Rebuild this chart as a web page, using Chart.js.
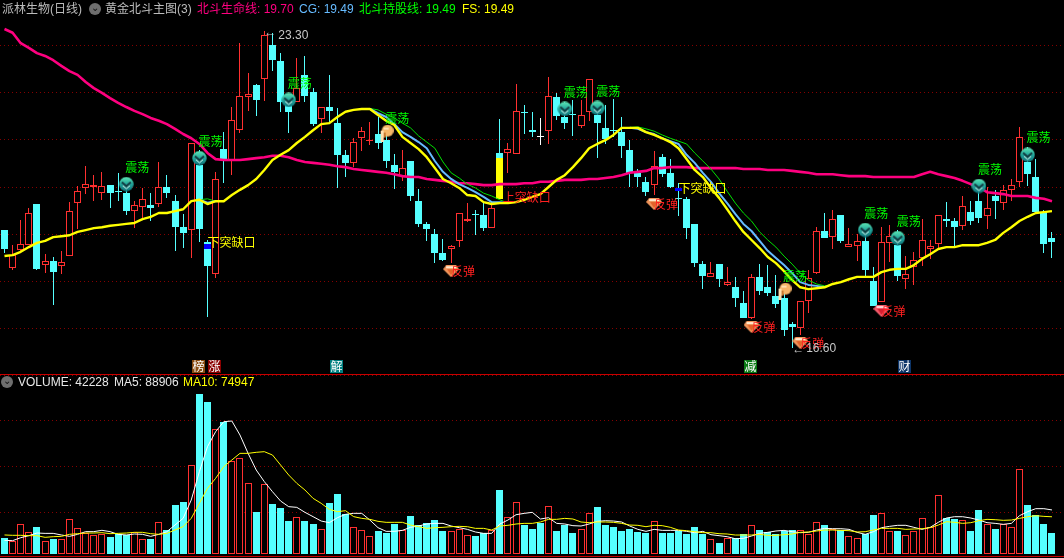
<!DOCTYPE html>
<html><head><meta charset="utf-8">
<script src="https://cdn.jsdelivr.net/npm/chart.js@4"></script>
<style>
html,body{margin:0;padding:0;background:#000;overflow:hidden;width:1064px;height:558px}
#wrap{position:relative;width:1064px;height:558px;background:#000;font:12px "Liberation Sans","Noto Sans CJK SC",sans-serif}
canvas{position:absolute;left:0;display:block}
.t{position:absolute;white-space:nowrap;line-height:14px;height:14px}
.rule{position:absolute;left:0;width:1064px;height:1px;background:#c80000}
.dot{position:absolute;width:12px;height:12px;border-radius:50%;background:#6e6e6e;color:#111;text-align:center;line-height:9px;font-size:10px}
</style></head><body>
<div id="wrap">
<canvas id="main" width="1064" height="374" style="top:0"></canvas>
<canvas id="vol" width="1064" height="183" style="top:375px"></canvas>
<div class="rule" style="top:374px"></div>
<div class="rule" style="top:556px"></div>
<span class="t" style="left:2px;top:2px;color:#bcbcbc">派林生物(日线)</span>
<div class="dot" style="left:89px;top:3px">⌄</div>
<span class="t" style="left:105px;top:2px;color:#bcbcbc">黄金北斗主图(3)</span>
<span class="t" style="left:197px;top:2px;color:#ff0080">北斗生命线: 19.70</span>
<span class="t" style="left:299px;top:2px;color:#66bbff">CG: 19.49</span>
<span class="t" style="left:359px;top:2px;color:#00ff00">北斗持股线: 19.49</span>
<span class="t" style="left:462px;top:2px;color:#ffff00">FS: 19.49</span>
<div class="dot" style="left:1px;top:376px">⌄</div>
<span class="t" style="left:18px;top:375px;color:#e8e8e8">VOLUME: 42228</span>
<span class="t" style="left:114px;top:375px;color:#e8e8e8">MA5: 88906</span>
<span class="t" style="left:183px;top:375px;color:#ffff00">MA10: 74947</span>
</div>
<script>
const opens=[19.09,18.29,18.67,18.77,19.64,18.35,18.44,18.33,18.54,19.66,
19.98,20.00,19.87,20.04,19.91,19.87,19.49,19.58,19.62,19.64,
20.00,19.70,19.15,19.09,20.46,18.84,18.16,20.80,20.57,21.20,
21.90,22.15,22.28,23.00,22.66,21.84,21.80,22.37,22.01,21.44,
21.69,21.35,20.68,20.51,21.03,20.97,21.12,20.99,20.46,20.23,
20.55,19.70,19.22,19.01,18.60,18.69,18.86,19.28,19.43,19.41,
19.13,20.72,20.72,20.70,21.58,21.20,21.08,21.18,21.90,21.48,
21.55,21.29,21.58,21.52,21.25,21.21,21.16,20.78,20.30,20.11,
20.04,20.63,20.30,19.77,19.75,19.22,18.37,18.10,18.37,17.93,
17.88,17.55,17.23,18.10,17.88,17.70,17.65,17.10,17.02,17.59,
18.18,19.07,18.94,19.41,18.73,18.75,18.86,18.01,17.57,18.82,
18.77,18.05,18.31,18.50,18.69,18.79,19.32,19.28,19.18,19.47,
19.70,19.39,19.81,19.66,19.94,20.11,20.53,20.21,19.47,18.92];
const highs=[19.09,18.77,19.30,19.56,19.64,18.58,18.52,18.65,19.68,20.02,
20.44,20.25,20.32,20.04,20.30,19.96,19.70,19.98,19.87,20.53,
20.25,19.83,19.43,20.93,20.78,18.88,20.32,21.16,21.69,23.04,
22.41,22.17,23.30,23.26,22.83,21.97,22.73,22.77,22.09,21.69,
22.37,21.67,20.78,21.03,21.27,21.37,21.48,21.16,20.70,20.78,
20.55,19.96,19.26,19.11,18.90,18.77,19.45,19.66,19.51,19.66,
19.64,21.44,20.93,22.17,21.73,21.58,21.46,22.33,21.99,21.80,
21.84,21.84,22.28,21.73,21.73,21.86,21.48,20.99,20.38,20.21,
20.76,20.70,20.59,20.08,19.79,19.22,18.44,18.41,18.37,18.31,
18.10,17.80,18.16,18.37,18.35,18.14,17.93,17.15,17.59,18.25,
19.15,19.45,19.51,19.41,19.13,19.01,19.09,18.31,19.15,19.20,
19.09,18.54,18.63,19.32,18.88,19.41,19.68,19.34,19.81,19.70,
19.94,20.00,19.94,20.04,20.17,21.27,20.85,20.59,19.51,19.05];
const lows=[18.60,18.25,18.61,18.77,18.25,18.18,17.50,18.16,18.54,19.11,
19.85,19.70,19.73,19.56,19.70,19.41,19.13,19.34,19.28,19.58,
19.77,18.65,18.71,18.50,18.84,17.25,18.07,20.08,20.25,21.14,
21.60,21.50,21.82,22.45,21.59,21.14,21.80,21.80,21.29,21.14,
21.37,19.98,20.21,20.42,20.76,20.89,20.80,20.40,19.96,20.13,
19.70,19.15,18.86,18.39,18.44,18.39,18.73,19.26,18.98,19.07,
19.13,19.75,20.30,20.70,21.12,21.06,20.89,20.91,21.42,21.22,
21.08,21.25,21.40,20.61,20.91,21.06,20.61,20.00,20.00,19.81,
19.83,20.21,19.98,19.39,18.90,18.31,17.84,18.10,17.88,17.91,
17.46,17.23,17.21,17.72,17.70,17.44,16.85,16.60,16.87,17.34,
18.16,18.92,18.69,18.82,18.73,18.44,18.10,17.48,17.57,18.41,
18.01,17.84,17.93,18.33,18.48,18.69,19.15,18.75,19.09,19.20,
19.24,19.11,19.32,19.51,19.70,20.00,20.02,19.47,18.60,18.50];
const closes=[18.69,18.56,18.79,19.45,18.27,18.44,18.21,18.42,19.49,19.92,
20.07,20.04,20.02,19.87,19.89,19.49,19.62,19.75,19.56,20.00,
19.87,19.15,19.03,20.93,19.11,18.33,20.17,20.59,21.42,21.92,
21.96,21.84,23.21,22.68,21.80,21.59,22.09,21.92,21.33,21.69,
21.61,20.68,20.51,20.95,21.18,20.99,20.93,20.55,20.32,20.40,
19.81,19.22,19.11,18.60,18.46,18.75,19.45,19.32,19.41,19.13,
19.56,19.75,20.80,21.60,21.56,21.16,21.08,21.92,21.50,21.35,
21.53,21.52,22.28,21.35,21.01,21.19,20.87,20.30,20.21,19.89,
20.44,20.27,20.00,19.75,19.13,18.39,18.12,18.18,18.05,17.99,
17.65,17.23,18.10,17.80,17.76,17.53,16.98,17.04,17.59,18.07,
19.07,18.92,19.32,18.86,18.79,18.86,18.25,17.48,18.84,18.96,
18.12,18.16,18.46,18.88,18.75,19.41,19.28,19.15,19.60,19.28,
19.34,19.56,19.70,19.94,20.04,21.06,20.27,19.47,18.79,18.84];
const lifeLine=[23.34,23.26,23.04,22.94,22.83,22.77,22.68,22.56,22.45,22.37,
22.22,22.09,21.99,21.88,21.78,21.69,21.61,21.54,21.46,21.40,
21.33,21.23,21.12,21.03,20.91,20.72,20.59,20.57,20.57,20.57,
20.59,20.61,20.63,20.66,20.66,20.63,20.57,20.53,20.51,20.49,
20.47,20.44,20.42,20.38,20.36,20.34,20.32,20.30,20.27,20.23,
20.21,20.21,20.17,20.15,20.13,20.11,20.08,20.08,20.06,20.04,
20.04,20.06,20.06,20.06,20.08,20.08,20.11,20.11,20.13,20.15,
20.15,20.15,20.17,20.17,20.19,20.21,20.25,20.30,20.32,20.34,
20.40,20.40,20.42,20.42,20.42,20.40,20.40,20.40,20.40,20.40,
20.40,20.38,20.38,20.38,20.36,20.36,20.36,20.34,20.32,20.30,
20.27,20.27,20.27,20.25,20.23,20.23,20.23,20.21,20.21,20.21,
20.21,20.21,20.21,20.27,20.32,20.27,20.23,20.19,20.13,20.06,
20.00,19.89,19.87,19.85,19.81,19.81,19.81,19.77,19.75,19.70];
const fsLine=[18.54,18.56,18.63,18.73,18.82,18.86,18.94,18.96,18.98,19.05,
19.09,19.13,19.15,19.18,19.20,19.22,19.24,19.32,19.37,19.45,
19.45,19.49,19.53,19.70,19.73,19.64,19.70,19.70,19.83,19.94,
20.04,20.17,20.36,20.57,20.68,20.78,20.93,21.06,21.20,21.33,
21.35,21.48,21.59,21.63,21.65,21.65,21.52,21.40,21.31,21.06,
20.93,20.80,20.63,20.40,20.17,20.08,19.98,19.83,19.81,19.68,
19.64,19.66,19.66,19.68,19.73,19.79,19.85,20.00,20.15,20.25,
20.42,20.61,20.82,20.91,20.99,21.10,21.25,21.25,21.25,21.16,
21.10,21.03,20.95,20.82,20.59,20.36,20.21,19.98,19.77,19.53,
19.28,19.05,18.88,18.71,18.52,18.39,18.22,18.03,17.88,17.84,
17.86,17.88,17.95,17.99,18.05,18.10,18.10,18.10,18.20,18.25,
18.27,18.27,18.35,18.48,18.58,18.69,18.73,18.73,18.77,18.77,
18.77,18.82,18.88,19.03,19.15,19.28,19.37,19.45,19.47,19.49];
// CG and 北斗持股线 show apart from FS only on these stretches (first value = candle index)
const cgStretchA=[45,21.65,21.56,21.48,21.33,21.16,21.06,20.95,20.82,20.55,20.32,20.17,20.06,19.98,19.89,19.79,19.68,19.68,19.66];
const cgStretchB=[77,21.25,21.23,21.16,21.12,21.03,20.97,20.91,20.68,20.51,20.30,20.11,19.87,19.66,19.43,19.22,19.07,18.86,18.65,18.50,18.35,18.18,17.99,17.93,17.91,17.88];
const cgStretchC=[24,19.73,19.67,19.70];
const holdStretchA=[45,21.66,21.63,21.54,21.46,21.35,21.25,21.08,20.95,20.82,20.53,20.30,20.19,20.06,19.98,19.87,19.81,19.73,19.66];
const holdStretchB=[77,21.26,21.27,21.23,21.18,21.10,21.03,20.97,20.91,20.72,20.55,20.38,20.17,19.91,19.66,19.45,19.28,19.05,18.88,18.73,18.54,18.37,18.18,18.03,17.95,17.91,17.94];
const holdStretchC=[24,19.73,19.75,19.70];
const volumes=[31600,26200,59500,43200,54100,24800,29600,28900,69700,51400,
41800,37200,40500,33700,39200,37800,43200,28900,29600,63700,
48000,99000,105100,180000,325500,309200,253500,267800,188200,194300,
143300,84700,141200,101000,92900,66300,73900,66300,60200,49400,
103000,121400,80000,53500,47300,35100,45900,41800,60200,47300,
76500,58200,62300,68400,45900,45300,49400,37200,35700,41200,
48000,129600,73900,104500,58200,50000,62300,96300,45900,58200,
41800,49400,82000,94900,58200,54100,45900,50000,43900,41800,
65700,41800,41800,45900,39800,53500,39800,29000,21400,31000,
31600,39800,57600,48000,43900,39800,45900,48000,47300,39200,
63700,58200,49400,48000,35100,31000,39800,78600,82000,45300,
45900,37200,45300,71800,53500,118800,72500,70400,67800,45900,
88800,60200,50000,59600,53500,171900,99000,78600,60200,42228];
const ma5=[26900,26200,32300,36400,41800,41100,41100,37800,35000,39100,
44600,44600,47300,44600,39100,37800,39800,39100,35000,39100,
44600,58200,71800,109200,167000,218000,248600,269000,270400,241800,
204400,170400,146600,126200,107100,95600,94200,84000,75200,66300,
62900,73100,79900,82000,81900,68300,52700,45200,45200,47200,
53400,56100,60200,61500,61500,56100,52700,49300,43900,41100,
41100,60200,68300,79200,81900,84000,70400,73100,61500,60200,
56800,56100,60200,65600,67000,66300,64300,56100,49300,45200,
49300,47200,47200,47200,45200,42500,45200,38400,36400,34300,
30200,30900,35700,41100,43200,45900,47200,44500,42500,43200,
47900,51300,50600,50600,49300,43200,39100,44500,52700,55400,
57500,57500,53400,49300,53400,63600,72400,75100,75100,72400,
68300,62900,61500,59500,61500,77200,85300,91500,91500,88906];
const ma10=[37800,37100,37100,36400,36400,33000,34300,35000,39100,40500,
41800,41800,42500,40500,41100,41800,43200,43200,40500,39100,
41100,48000,54800,71800,102400,133000,153400,177200,190800,204400,
204400,206500,207800,201000,180600,160200,143200,129600,112600,102400,
90100,85400,87400,75200,71700,69700,65600,63600,63600,63600,
58100,54700,51300,52700,53400,54700,55400,54700,51300,51300,
47900,56100,57500,60200,61500,61500,64300,69700,69700,71700,
70400,64300,62900,64300,64300,63600,61500,58100,57500,54700,
57500,56800,53400,47900,46600,44500,42500,42500,40400,39800,
37700,37700,37700,39100,37000,37000,38400,39800,43200,43900,
45900,47900,47900,47200,46600,43900,44500,47900,51300,51300,
51300,49300,50000,50600,52700,58100,64900,63600,61500,62900,
67000,69700,69000,67700,68300,71700,75100,77200,75800,74947];
// marks
const shockIdx=[15,24,35,69,73,106,110,120,126];
const shockPrice=[20.06,20.61,21.84,21.65,21.67,19.09,18.92,20.02,20.68];
const handIdx=[47,96];
const handPrice=[21.14,17.80];
const dipIdx=[55,80,92,98,108];
const dipPrice=[18.22,19.64,17.04,16.70,17.38];
const gapBarIdx=[25,83];
const gapBarRange=[[18.69,18.79],[19.91,19.98]];
const gapUpIdx=[61];
const gapUpRange=[[19.75,20.61]];
const gapNotes=[[25,18.83,'下突缺口','#ffff00'],[83,19.98,'下突缺口','#ffff00'],[61,19.77,'上突缺口','#ff2020']];
const tagNotes=[[24,'榜','#8a4b10'],[26,'涨','#8b0000'],[41,'解','#008080'],[92,'减','#0a7a14'],[111,'财','#0c3468']];
const extremeNotes=[[32,23.30,'23.30'],[97,16.60,'16.60']];

const RED='#ff3030', CYAN='#55ffff', N=opens.length;
const xMin=-0.554, xMax=130.48;
const idx=opens.map((_,i)=>i);
const barColor=i=>closes[i]>opens[i]?RED:(closes[i]<opens[i]?CYAN:'#ffffff');
const stretch=(...lists)=>{const a=new Array(N).fill(null);lists.forEach(l=>l.slice(1).forEach((v,k)=>a[l[0]+k]=v));return a;};
const pts=a=>a.map((y,x)=>({x,y}));
const CJK='"Noto Sans CJK SC",sans-serif';

function icon(w,h,draw){const c=document.createElement('canvas');c.width=w;c.height=h;draw(c.getContext('2d'),w,h);return c;}
const shockIcon=icon(15,15,(g)=>{
  const l=g.createLinearGradient(0,0,0,15);l.addColorStop(0,'#5fe8b4');l.addColorStop(.5,'#22a79c');l.addColorStop(1,'#0d6f78');
  g.fillStyle=l;g.beginPath();g.arc(7.5,7.5,7.2,0,Math.PI*2);g.fill();
  g.strokeStyle='#123a40';g.lineWidth=2;g.beginPath();g.moveTo(3,5.5);g.lineTo(7.5,9.5);g.lineTo(12,5.5);g.stroke();
  g.strokeStyle='#e8fff6';g.lineWidth=1;g.beginPath();g.moveTo(4,9);g.lineTo(7.5,12);g.lineTo(11,9);g.stroke();
});
const diamond=(c1,c2,c3)=>icon(16,12,(g)=>{
  g.fillStyle=c2;g.beginPath();g.moveTo(3,0);g.lineTo(13,0);g.lineTo(16,4);g.lineTo(8,12);g.lineTo(0,4);g.closePath();g.fill();
  g.fillStyle=c1;g.fillRect(3,1,10,2);
  g.fillStyle=c3;g.beginPath();g.moveTo(4,4);g.lineTo(12,4);g.lineTo(8,10);g.closePath();g.fill();
});
const dipOrange=diamond('#ffe8cc','#f0945a','#e2622a');
const dipRed=diamond('#ffd0d0','#f05a6a','#d81e30');
const handIcon=icon(15,17,(g)=>{
  g.fillStyle='#f7b668';g.beginPath();g.arc(9,6,6,0,Math.PI*2);g.fill();
  g.fillStyle='#ffe0b0';g.fillRect(2,6,3,11);g.fillRect(5,3,5,2);
  g.fillStyle='#c87a30';g.fillRect(5,8,2,5);
});

const snap={id:'snap',beforeDatasetsDraw(c){
  c.data.datasets.forEach((d,i)=>{
    const m=c.getDatasetMeta(i);
    if(m.type!=='bar')return;
    m.data.forEach(el=>{
      el.x=Math.round(el.x-0.5)+0.5;
      let t=Math.round(Math.min(el.y,el.base)),b=Math.round(Math.max(el.y,el.base));
      if(b===t)b=t+1;
      el.y=t;el.base=b;el.height=b-t;
    });
  });
}};
const notes={id:'notes',afterDatasetsDraw(c){
  const g=c.ctx,X=c.scales.x,Y=c.scales.y;
  g.save();g.textBaseline='middle';g.font='12px '+CJK;
  g.textAlign='center';
  g.fillStyle='#00ff00';
  shockIdx.forEach((k,i)=>g.fillText('震荡',X.getPixelForValue(k)+11,Y.getPixelForValue(shockPrice[i])-17));
  handIdx.forEach((k,i)=>g.fillText('震荡',X.getPixelForValue(k)+11,Y.getPixelForValue(handPrice[i])-15));
  g.fillStyle='#ff2020';
  dipIdx.forEach((k,i)=>g.fillText('反弹',X.getPixelForValue(k)+12,Y.getPixelForValue(dipPrice[i])));
  g.textAlign='left';
  gapNotes.forEach(n=>{g.fillStyle=n[3];g.fillText(n[2],X.getPixelForValue(n[0])+(n[0]===61?3:0),Y.getPixelForValue(n[1]));});
  g.font='12px "Liberation Sans",sans-serif';g.fillStyle='#c8c8c8';
  extremeNotes.forEach(n=>{const x=X.getPixelForValue(n[0]),y=Y.getPixelForValue(n[1]);
    g.fillText('←',x,y+2);g.fillText(n[2],x+14,y+(n[0]===32?5:1));});
  g.font='12px '+CJK;g.textAlign='center';
  tagNotes.forEach(n=>{const x=Math.floor(X.getPixelForValue(n[0]));
    g.fillStyle=n[2];g.fillRect(x-7,360,13,13);g.fillStyle='#fff';g.fillText(n[1],x-0.5,366.5);});
  g.restore();
}};

const barDs=(data,colors,fills,th,order)=>({type:'bar',data,backgroundColor:fills,borderColor:colors,borderWidth:th>1?1:0,borderSkipped:false,inflateAmount:0,barThickness:th,grouped:false,order});
const lineDs=(a,color,w,order)=>({type:'line',data:pts(a),borderColor:color,borderWidth:w,pointRadius:0,tension:0,borderJoinStyle:'round',spanGaps:false,fill:false,order});
const iconDs=(ix,price,style,order)=>({type:'scatter',data:ix.map((x,i)=>({x,y:price[i]})),pointStyle:style,pointRadius:8,showLine:false,order});

const baseOpts=(yMin,yMax,step,keep)=>({
  responsive:false,animation:false,devicePixelRatio:1,
  layout:{padding:0,autoPadding:false},
  plugins:{legend:{display:false},tooltip:{enabled:false},title:{display:false}},
  scales:{
    x:{type:'linear',min:xMin,max:xMax,offset:false,display:false},
    y:{type:'linear',min:yMin,max:yMax,position:'left',afterFit:s=>{s.width=0;},
      ticks:{display:false,stepSize:step,includeBounds:false},
      border:{display:false,dash:[1,3]},
      grid:{drawTicks:false,lineWidth:1,color:c=>keep(c.tick.value)?'#850000':'rgba(0,0,0,0)'}}
  }
});

new Chart(document.getElementById('main'),{type:'bar',plugins:[snap,notes],
  data:{datasets:[
    barDs(idx.map(i=>({x:i,y:[lows[i],highs[i]]})),idx.map(barColor),idx.map(barColor),1,50),
    barDs(idx.map(i=>({x:i,y:[Math.min(opens[i],closes[i]),Math.max(opens[i],closes[i])]})),idx.map(barColor),idx.map(i=>closes[i]>opens[i]?'#000000':barColor(i)),7,40),
    barDs(gapUpIdx.map((x,i)=>({x,y:gapUpRange[i]})),'#ffff00','#ffff00',7,35),
    barDs(gapBarIdx.map((x,i)=>({x,y:gapBarRange[i]})),'#0000ff','#0000ff',7,34),
    lineDs(lifeLine,'#ff0080',2.6,30),
    lineDs(stretch(holdStretchA,holdStretchB,holdStretchC),'#00e000',1,29),
    lineDs(stretch(cgStretchA,cgStretchB,cgStretchC),'#66bbff',2,28),
    lineDs(fsLine,'#ffff00',2.4,27),
    iconDs(shockIdx,shockPrice,shockIcon,5),
    iconDs(handIdx,handPrice,handIcon,5),
    iconDs(dipIdx.slice(0,4),dipPrice.slice(0,4),dipOrange,5),
    iconDs(dipIdx.slice(4),dipPrice.slice(4),dipRed,5)
  ]},
  options:baseOpts(16.047,23.953,1,v=>Number.isInteger(v))
});

new Chart(document.getElementById('vol'),{type:'bar',plugins:[snap],
  data:{datasets:[
    barDs(idx.map(i=>({x:i,y:volumes[i]})),idx.map(i=>closes[i]>opens[i]?RED:CYAN),idx.map(i=>closes[i]>opens[i]?'#000000':CYAN),7,20),
    lineDs(ma5,'#ffffff',1,10),
    lineDs(ma10,'#ffff00',1,9)
  ]},
  options:baseOpts(-9180,364300,100000,v=>v>0)
});
</script>
</body></html>
